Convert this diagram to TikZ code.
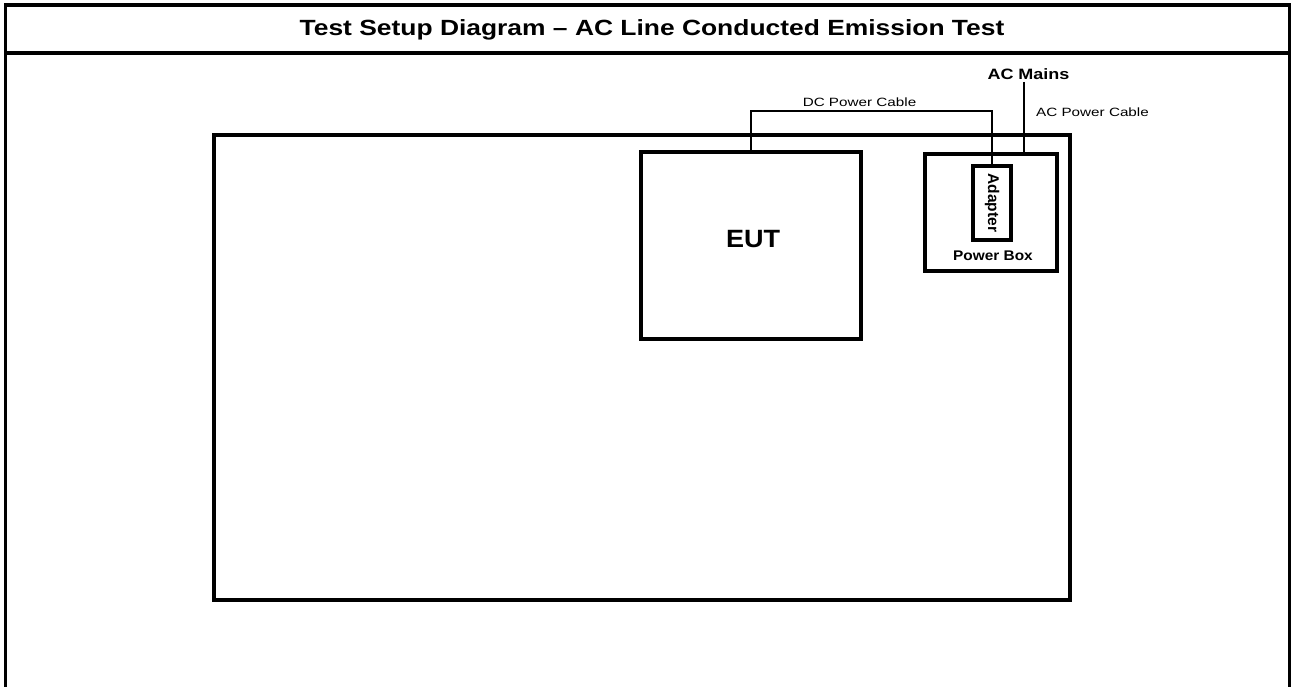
\documentclass[tikz,border=0pt]{standalone}
\usepackage{fontspec}
\setmainfont{Liberation Sans}
\begin{document}
\begin{tikzpicture}[x=1pt,y=-1pt,
  frameline/.style={line width=3.5pt},
  boxthick/.style={draw,line width=4pt,inner sep=0pt,fill=none},
  cable/.style={line width=2pt},
  lbl/.style={inner sep=0pt,xscale=1.27,font=\fontsize{12}{14}\selectfont}
]
\useasboundingbox (0,0) rectangle (1292,687);
% table frame
\coordinate (tl) at (5.3,5);
\coordinate (tr) at (1289.7,5);
\coordinate (bl) at (5.3,687);
\coordinate (br) at (1289.7,687);
\coordinate (sl) at (5.3,53);
\coordinate (sr) at (1289.7,53);
\draw[frameline] (bl) -- (tl) -- (tr) -- (br);
\draw[frameline] (sl) -- (sr);
\node[inner sep=0pt,xscale=1.2,font=\bfseries\fontsize{22}{26}\selectfont] (title) at (652,30) {Test Setup Diagram – AC Line Conducted Emission Test};
% boxes
\node[boxthick,minimum width=856pt,minimum height=465pt] (bench) at (642,367.5) {};
\node[boxthick,minimum width=220pt,minimum height=187pt] (eut) at (751,245.5) {};
\node[inner sep=0pt,xscale=1.08,font=\bfseries\fontsize{25}{30}\selectfont] (eutl) at (753,239) {EUT};
\node[boxthick,minimum width=132pt,minimum height=117pt] (pbox) at (991,212.5) {};
\node[inner sep=0pt,xscale=1.1,font=\bfseries\fontsize{14}{16}\selectfont] (pboxl) at (993,256) {Power Box};
\node[boxthick,minimum width=38pt,minimum height=74pt] (adapter) at (992,203) {};
\node[inner sep=0pt,font=\bfseries\fontsize{15.5}{18}\selectfont,rotate=-90] (adl) at (adapter.center) {Adapter};
% cables
\draw[cable] (eut.north) -- ++(0,-39) coordinate (dctop) -| (adapter.north);
\node[lbl] (dcl) at (859.5,102) {DC Power Cable};
\coordinate (acm) at (1024,82);
\draw[cable] (acm) -- (acm |- pbox.north);
\node[inner sep=0pt,xscale=1.2,font=\bfseries\fontsize{15}{18}\selectfont] (acml) at (1028.5,74) {AC Mains};
\node[lbl] (acl) at (1092.5,112) {AC Power Cable};
\end{tikzpicture}
\end{document}
